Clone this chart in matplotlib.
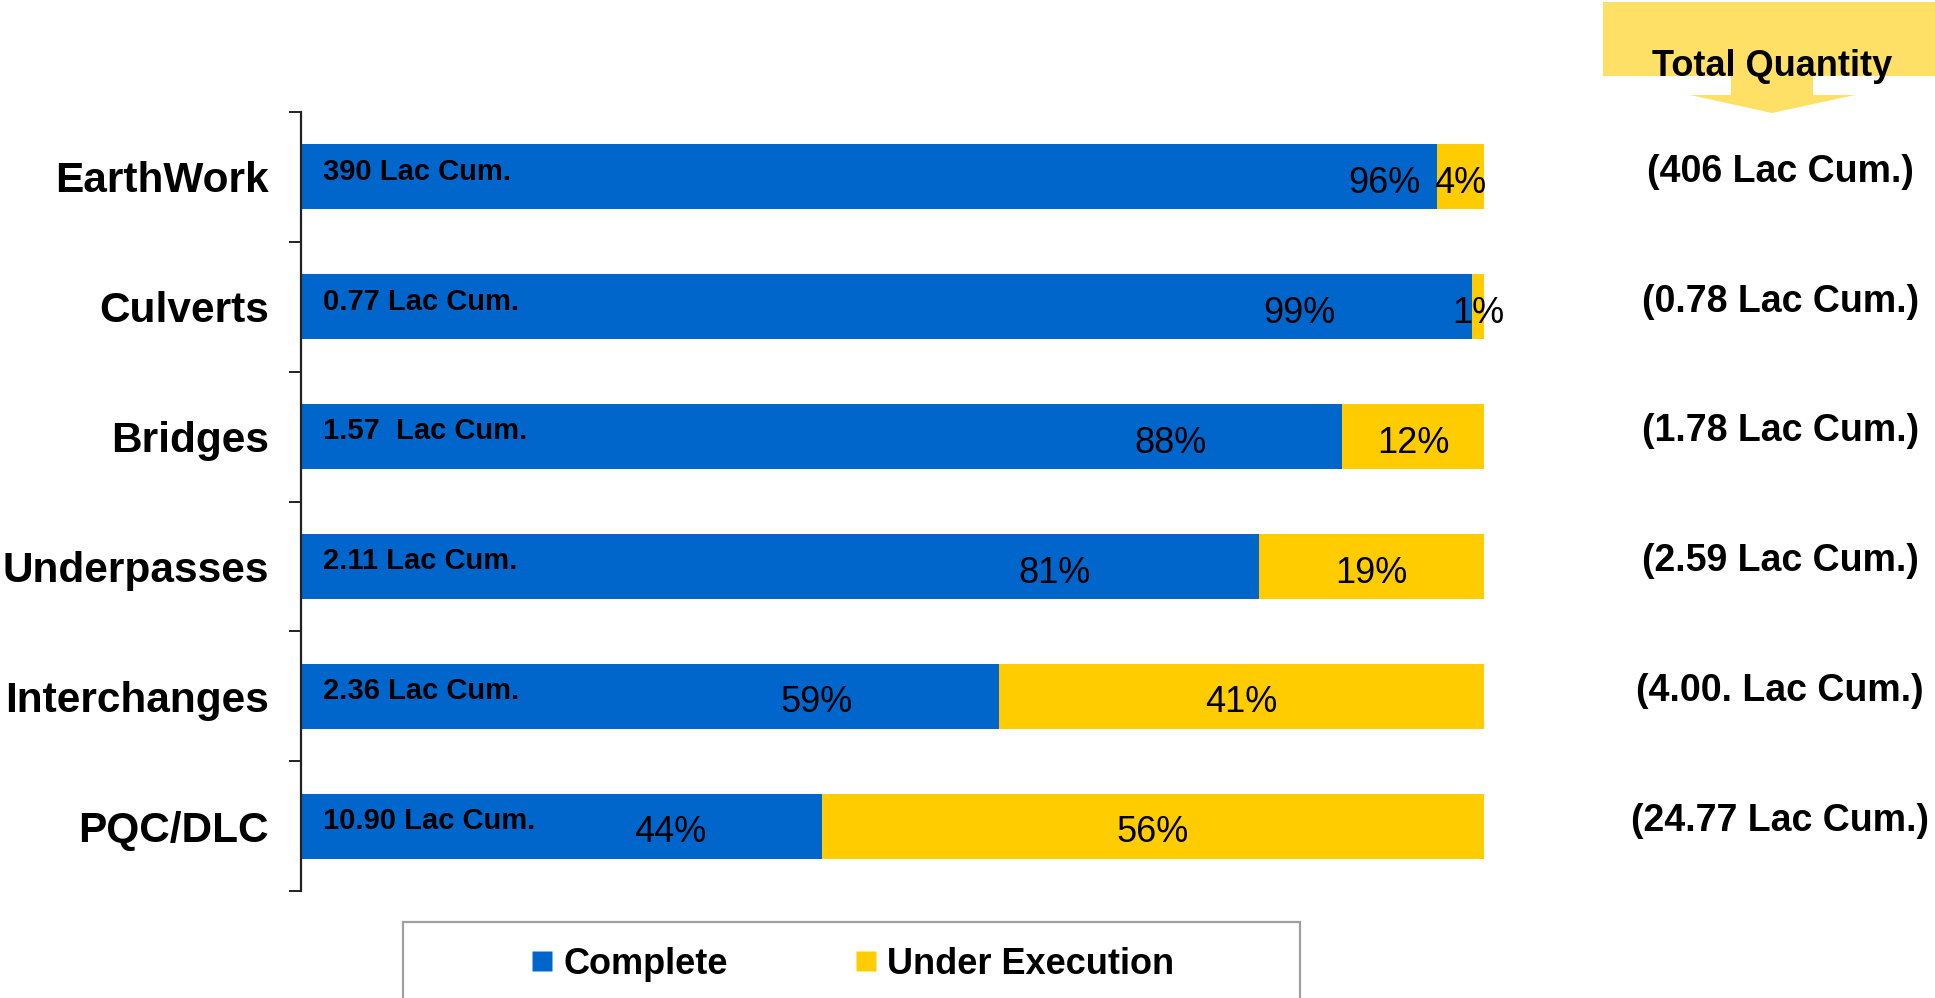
import matplotlib
matplotlib.use("Agg")
import matplotlib.pyplot as plt
from matplotlib.patches import Polygon, Rectangle
from matplotlib.lines import Line2D
from matplotlib.ticker import FixedLocator
import matplotlib.transforms as mtransforms

plt.rcParams["font.family"] = ["Liberation Sans", "DejaVu Sans"]

# data
categories = ["EarthWork", "Culverts", "Bridges", "Underpasses", "Interchanges", "PQC/DLC"]
complete_pct = [96, 99, 88, 81, 59, 44]
under_pct = [4, 1, 12, 19, 41, 56]
done_qty = ["390 Lac Cum.", "0.77 Lac Cum.", "1.57  Lac Cum.", "2.11 Lac Cum.",
            "2.36 Lac Cum.", "10.90 Lac Cum."]
total_qty = ["(406 Lac Cum.)", "(0.78 Lac Cum.)", "(1.78 Lac Cum.)", "(2.59 Lac Cum.)",
             "(4.00. Lac Cum.)", "(24.77 Lac Cum.)"]

# where the "complete" percentage sits along each bar (chart units)
complete_label_x = [91.6, 84.4, 73.5, 63.7, 43.6, 31.2]

BLUE = "#0066CC"
YELLOW = "#FFCC00"
W, H = 1935, 998


def fx(x):
    return x / W


def fy(y):
    return 1 - y / H


fig = plt.figure(figsize=(W / 100, H / 100), dpi=100)
ax = fig.add_axes([fx(301), fy(891), fx(1484) - fx(301), fy(112) - fy(891)])

y = list(range(len(categories)))
ax.barh(y, complete_pct, height=0.5, color=BLUE, label="Complete")
ax.barh(y, under_pct, left=complete_pct, height=0.5, color=YELLOW, label="Under Execution")

ax.set_xlim(0, 100)
ax.set_ylim(len(categories) - 0.5, -0.5)

for i in y:
    ax.text(1.9, i - 0.04, done_qty[i], ha="left", va="center",
            fontsize=21, fontweight="bold")
    ax.text(complete_label_x[i], i + 0.02, f"{complete_pct[i]}%", ha="center",
            va="center_baseline", fontsize=26)
    ax.text(complete_pct[i] + under_pct[i] / 2, i + 0.02, f"{under_pct[i]}%",
            ha="center", va="center_baseline", fontsize=26)

# totals to the right of the plot
trans = mtransforms.blended_transform_factory(fig.transFigure, ax.transData)
for i in y:
    ax.text(0.920, i - 0.04, total_qty[i], transform=trans, ha="center", va="center",
            fontsize=27, fontweight="bold", clip_on=False)

# axis styling
for s in ["top", "right", "bottom"]:
    ax.spines[s].set_visible(False)
ax.spines["left"].set_linewidth(1.6)
ax.spines["left"].set_color("#222222")
ax.set_xticks([])
ax.set_yticks(y)
ax.set_yticklabels(categories, fontsize=30.5, fontweight="bold")
ax.yaxis.set_minor_locator(FixedLocator([i - 0.5 for i in range(len(categories) + 1)]))
ax.tick_params(axis="y", which="major", length=0, pad=23)
ax.tick_params(axis="y", which="minor", length=8.5, width=1.4, color="#222222")

# "Total Quantity" banner with arrow
pts = [(1603, 2), (1935, 2), (1935, 76), (1813, 76), (1813, 95), (1855, 95),
       (1772, 113), (1690, 95), (1731, 95), (1731, 76), (1603, 76)]
fig.patches.append(Polygon([(fx(a), fy(b)) for a, b in pts], closed=True,
                           transform=fig.transFigure, facecolor="#FFE066",
                           edgecolor="none"))
fig.text(fx(1772), fy(62), "Total Quantity", ha="center", va="center_baseline",
         fontsize=26, fontweight="bold")

# legend box (runs off the bottom edge)
fig.patches.append(Rectangle((fx(403), -0.05), fx(1300) - fx(403), fy(922) + 0.05,
                             transform=fig.transFigure, facecolor="white",
                             edgecolor="#A0A0A0", linewidth=1.6))
handles = [Line2D([], [], marker="s", linestyle="none", markersize=14.5,
                  markerfacecolor=BLUE, markeredgecolor="none"),
           Line2D([], [], marker="s", linestyle="none", markersize=14.5,
                  markerfacecolor=YELLOW, markeredgecolor="none")]
leg = fig.legend(handles, ["Complete", "Under Execution"], loc="center",
                 bbox_to_anchor=(fx(853), fy(964)), ncol=2, frameon=False,
                 prop={"size": 26, "weight": "bold"}, handlelength=0.6,
                 handletextpad=0.3, columnspacing=3.5)

fig.savefig("out.png", dpi=100)
